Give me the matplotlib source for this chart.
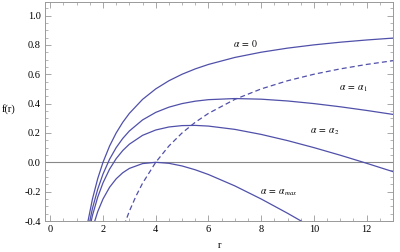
# f(r) curves for several alpha values, plus dashed curve through the maxima
import matplotlib
matplotlib.use('Agg')
import matplotlib.pyplot as plt
from matplotlib.ticker import MultipleLocator

# values
r = [1.4, 1.6, 1.8, 2.0, 2.25, 2.5, 2.75, 3.0, 3.5, 4.0, 4.5, 5.0, 5.5, 6.0,
     7.0, 8.0, 9.0, 10.0, 11.0, 12.0, 13.0]
f_a0 = [-0.4286, -0.25, -0.1111, 0.0, 0.1111, 0.2, 0.2727, 0.3333, 0.4286, 0.5,
        0.5556, 0.6, 0.6364, 0.6667, 0.7143, 0.75, 0.7778, 0.8, 0.8182, 0.8333, 0.8462]
f_a1 = [-0.4846, -0.314, -0.1831, -0.08, 0.0211, 0.1, 0.1627, 0.2133, 0.2886, 0.34,
        0.3756, 0.4, 0.4164, 0.4267, 0.4343, 0.43, 0.4178, 0.4, 0.3782, 0.3533, 0.3262]
f_a2 = [-0.5266, -0.362, -0.2371, -0.14, -0.0464, 0.025, 0.0802, 0.1233, 0.1836, 0.22,
        0.2406, 0.25, 0.2514, 0.2467, 0.2243, 0.19, 0.1478, 0.1, 0.0482, -0.0067, -0.0638]
r_max = [1.4, 1.6, 1.8, 2.0, 2.25, 2.5, 2.75, 3.0, 3.5, 4.0, 4.5, 5.0, 5.5, 6.0,
         7.0, 8.0, 9.0, 10.0]
f_amax = [-0.6036, -0.45, -0.3361, -0.25, -0.1701, -0.1125, -0.071, -0.0417, -0.0089, 0.0,
          -0.0069, -0.025, -0.0511, -0.0833, -0.1607, -0.25, -0.3472, -0.45]
r_dash = [2.8, 3.0, 3.25, 3.5, 4.0, 4.5, 5.0, 5.5, 6.0, 7.0, 8.0, 9.0, 10.0, 11.0, 12.0, 13.0]
f_dash = [-0.4286, -0.3333, -0.2308, -0.1429, 0.0, 0.1111, 0.2, 0.2727, 0.3333, 0.4286,
          0.5, 0.5556, 0.6, 0.6364, 0.6667, 0.6923]

labels = [r'$\alpha\;=\;0$', r'$\alpha\;=\;\alpha_1$', r'$\alpha\;=\;\alpha_2$',
          r'$\alpha\;=\;\alpha_{max}$']
label_pos = [(7.4, 0.81), (11.5, 0.50), (10.4, 0.205), (8.65, -0.205)]

plt.rcParams['font.family'] = ['Liberation Serif', 'DejaVu Serif']
plt.rcParams['mathtext.fontset'] = 'stix'

fig = plt.figure(figsize=(4, 2.52), dpi=100)
ax = fig.add_axes([0.1125, 0.123, 0.87, 0.869])

col = '#5050aa'
ax.axhline(0, color='#888888', lw=0.8)
ax.plot(r, f_a0, color=col, lw=0.9)
ax.plot(r, f_a1, color=col, lw=0.9)
ax.plot(r, f_a2, color=col, lw=0.9)
ax.plot(r_max, f_amax, color=col, lw=0.9)
ax.plot(r_dash, f_dash, color=col, lw=0.9, dashes=(4, 2.5))

for txt, (x, y) in zip(labels, label_pos):
    ax.text(x, y, txt, fontsize=7, ha='center', va='center')

ax.set_xlim(-0.2, 13)
ax.set_ylim(-0.4, 1.092)
ax.xaxis.set_major_locator(MultipleLocator(2))
ax.xaxis.set_minor_locator(MultipleLocator(0.5))
ax.yaxis.set_major_locator(MultipleLocator(0.2))
ax.yaxis.set_minor_locator(MultipleLocator(0.05))
ax.yaxis.set_major_formatter(plt.FuncFormatter(lambda v, p: '%.1f' % v))
ax.xaxis.set_major_formatter(plt.FuncFormatter(lambda v, p: '%d' % round(v)))

for s in ax.spines.values():
    s.set_color('#999999')
    s.set_linewidth(0.7)
ax.tick_params(which='both', direction='in', top=True, right=True,
               color='#999999', labelsize=7.5, pad=3)
ax.tick_params(which='major', length=4, width=0.6)
ax.tick_params(which='minor', length=2, width=0.5)

fig.text(0.005, 1 - 109 / 252, 'f(r)', fontsize=7.5, va='center', ha='left')
fig.text(220 / 400, 1 - 245 / 252, 'r', fontsize=7.5, va='center', ha='center')

fig.savefig('out.png', dpi=100)
